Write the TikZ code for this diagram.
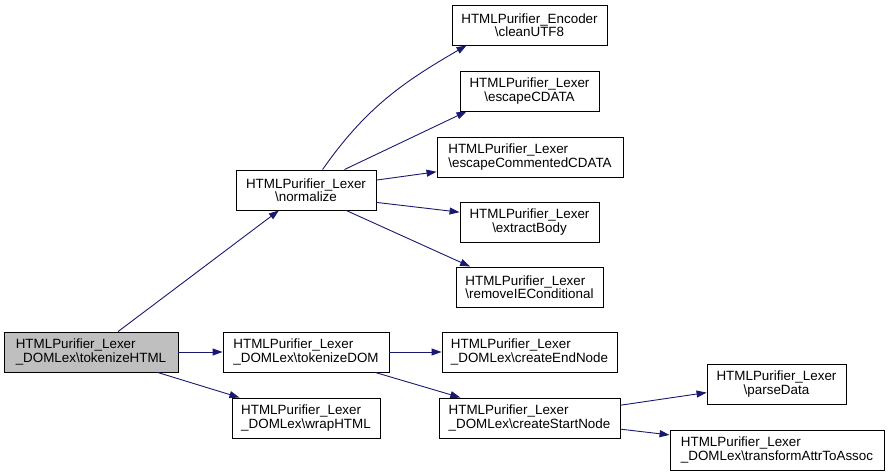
\documentclass[tikz,border=0pt]{standalone}
\usepackage{fontspec}
\setmainfont{Liberation Sans}
\usetikzlibrary{arrows.meta}
\definecolor{callblue}{HTML}{191970}
\definecolor{rootgray}{HTML}{BFBFBF}
\tikzset{%
  every node/.style={
    draw, line width=0.9pt, inner sep=1pt, minimum height=40pt,
    font=\fontsize{13.4}{13.5}\selectfont, align=center
  },
  root/.style={fill=rootgray},
  lft/.style={align=left},
  call/.style={draw=callblue, line width=0.9pt, -{Triangle[length=10pt,width=7pt]}}
}
\begin{document}
\begin{tikzpicture}[x=1pt,y=1pt]
        \useasboundingbox (0,0) rectangle (889,476);
        \node[root,lft,minimum width=174pt] at (91,124) (0) {HTMLPurifier\_Lexer\\\_DOMLex\textbackslash tokenizeHTML};
        \node[minimum width=140pt] at (306,286) (1) {HTMLPurifier\_Lexer\\\textbackslash normalize};
        \node[lft,minimum width=166pt] at (306,124) (2) {HTMLPurifier\_Lexer\\\_DOMLex\textbackslash tokenizeDOM};
        \node[lft,minimum width=148pt] at (306,58) (3) {HTMLPurifier\_Lexer\\\_DOMLex\textbackslash wrapHTML};
        \node[minimum width=155pt] at (529.5,451) (4) {HTMLPurifier\_Encoder\\\textbackslash cleanUTF8};
        \node[minimum width=139pt] at (529.5,385) (5) {HTMLPurifier\_Lexer\\\textbackslash escapeCDATA};
        \node[lft,minimum width=186pt] at (530,319) (6) {HTMLPurifier\_Lexer\\\textbackslash escapeCommentedCDATA};
        \node[minimum width=139pt] at (529.5,254) (7) {HTMLPurifier\_Lexer\\\textbackslash extractBody};
        \node[lft,minimum width=147pt] at (529.5,189) (8) {HTMLPurifier\_Lexer\\\textbackslash removeIEConditional};
        \node[lft,minimum width=175pt] at (529.5,124) (9) {HTMLPurifier\_Lexer\\\_DOMLex\textbackslash createEndNode};
        \node[lft,minimum width=181pt] at (529.5,58) (10) {HTMLPurifier\_Lexer\\\_DOMLex\textbackslash createStartNode};
        \node[minimum width=139pt] at (776.5,92) (11) {HTMLPurifier\_Lexer\\\textbackslash parseData};
        \node[lft,minimum width=214pt] at (777,26) (12) {HTMLPurifier\_Lexer\\\_DOMLex\textbackslash transformAttrToAssoc};
        \draw[call] (0) -- (1);
        \draw[call] (0) -- (2);
        \draw[call] (0) -- (3);
        \draw[call] (1.51) to[out=55,in=210] (4.198);
        \draw[call] (1.28) -- (5.198);
        \draw[call] (1.8) -- (6.189);
        \draw[call] (1.350) -- (7.172);
        \draw[call] (1.333) -- (8.161);
        \draw[call] (2) -- (9);
        \draw[call] (2) -- (10);
        \draw[call] (10.8) -- (11.187);
        \draw[call] (10.353) -- (12.172);
      \end{tikzpicture}
\end{document}
